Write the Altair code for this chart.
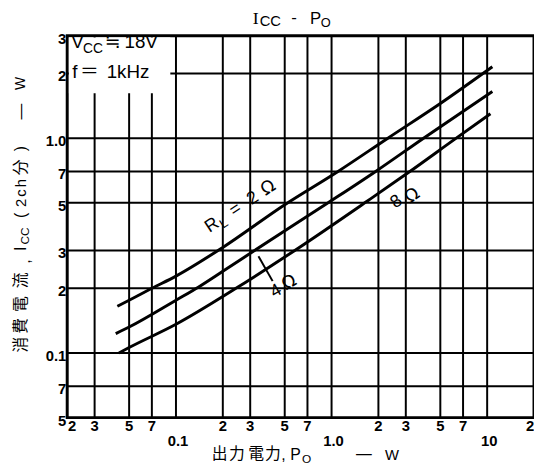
import altair as alt
import pandas as pd

# ---------------- data ----------------
p_2ohm = [0.042, 0.05, 0.07, 0.1, 0.2, 0.5, 1.1, 2.3, 5.0, 10.8]
i_2ohm = [0.165, 0.176, 0.2, 0.228, 0.31, 0.49, 0.7, 1.0, 1.45, 2.15]
p_4ohm = [0.041, 0.05, 0.1, 0.14, 0.2, 0.32, 0.95, 1.92, 3.9, 10.8]
i_4ohm = [0.123, 0.132, 0.176, 0.203, 0.24, 0.3, 0.5, 0.7, 1.0, 1.65]
p_8ohm = [0.043, 0.05, 0.1, 0.243, 0.6, 1.7, 3.1, 6.2, 10.5]
i_8ohm = [0.1, 0.106, 0.136, 0.2, 0.305, 0.51, 0.69, 0.99, 1.3]

x_grid = [0.03, 0.05, 0.07, 0.1, 0.2, 0.3, 0.5, 0.7, 1, 2, 3, 5, 7, 10]
y_grid = [0.07, 0.1, 0.2, 0.3, 0.5, 0.7, 1, 2]

x_minor_vals = [0.03, 0.05, 0.07, 0.2, 0.3, 0.5, 0.7, 2, 3, 5, 7]
x_minor_labels = ["3", "5", "7", "2", "3", "5", "7", "2", "3", "5", "7"]
x_first_val = [0.02]
x_first_label = ["2"]
x_last_val = [20]
x_last_label = ["2"]
x_major_vals = [0.1, 1, 10]
x_major_labels = ["0.1", "1.0", "10"]
y_tick_vals = [3, 2, 1, 0.7, 0.5, 0.3, 0.2, 0.1, 0.07, 0.05]
y_tick_labels = ["3", "2", "1.0", "7", "5", "3", "2", "0.1", "7", "5"]

# ---------------- layout ----------------
FONT = "Liberation Sans"
CJK = "Noto Sans CJK JP"
W, H = 473, 387

xscale = alt.Scale(type="log", domain=[0.02, 20], nice=False)
yscale = alt.Scale(type="log", domain=[0.05, 3], nice=False)

rows = []
for lab, ps, vs in [("2", p_2ohm, i_2ohm), ("4", p_4ohm, i_4ohm), ("8", p_8ohm, i_8ohm)]:
    for p, v in zip(ps, vs):
        rows.append({"RL": lab, "P": p, "I": v})
df = pd.DataFrame(rows)

vgrid = alt.Chart(pd.DataFrame({"P": x_grid})).mark_rule(color="black", strokeWidth=2).encode(
    x=alt.X("P:Q", scale=xscale, axis=None))
hgrid = alt.Chart(pd.DataFrame({"I": y_grid})).mark_rule(color="black", strokeWidth=2).encode(
    y=alt.Y("I:Q", scale=yscale, axis=None))

curves = alt.Chart(df).mark_line(color="black", strokeWidth=3, interpolate="monotone").encode(
    x=alt.X("P:Q", scale=xscale, axis=None),
    y=alt.Y("I:Q", scale=yscale, axis=None),
    detail="RL:N",
)

box = alt.Chart(pd.DataFrame({"P": [0.0205], "P2": [0.092], "I": [2.94], "I2": [1.62]})).mark_rect(
    fill="white").encode(
    x=alt.X("P:Q", scale=xscale, axis=None), x2="P2:Q",
    y=alt.Y("I:Q", scale=yscale, axis=None), y2="I2:Q")

leader = alt.Chart(pd.DataFrame({"P": [0.339, 0.418], "I": [0.282, 0.216]})).mark_line(
    color="black", strokeWidth=2).encode(
    x=alt.X("P:Q", scale=xscale, axis=None),
    y=alt.Y("I:Q", scale=yscale, axis=None))


def dtext(text, p, i, size=17, angle=0, dx=0, dy=0, align="left", baseline="alphabetic",
          font=FONT, weight="normal"):
    kw = dict(font=font, fontSize=size, dx=dx, dy=dy, align=align, baseline=baseline,
              color="black", fontWeight=weight)
    if angle:
        kw["angle"] = angle % 360
    return alt.Chart(pd.DataFrame({"P": [p], "I": [i], "t": [text]})).mark_text(**kw).encode(
        x=alt.X("P:Q", scale=xscale, axis=None),
        y=alt.Y("I:Q", scale=yscale, axis=None),
        text="t:N")


def ptext(text, x, y, size=16, angle=0, align="left", baseline="alphabetic", font=FONT,
          weight="normal"):
    kw = dict(font=font, fontSize=size, align=align, baseline=baseline, color="black",
              fontWeight=weight)
    if angle:
        kw["angle"] = angle % 360
    return alt.Chart(pd.DataFrame({"t": [text]})).mark_text(**kw).encode(
        x=alt.value(x), y=alt.value(y), text="t:N")


layers = [vgrid, hgrid, box, curves, leader]

# box text
layers += [
    dtext("V", 0.02, 2.64, size=19, dx=4),
    dtext("CC", 0.02, 2.64, size=14, dx=16, dy=5),
    dtext("≒", 0.02, 2.64, size=19, dx=38, font="DejaVu Sans"),
    dtext("18V", 0.02, 2.64, size=19, dx=58),
    dtext("f", 0.02, 1.90, size=19, dx=5),
    dtext("＝", 0.02, 1.90, size=19, dx=13, font=CJK),
    dtext("1kHz", 0.02, 1.90, size=19, dx=40),
]

# curve labels
A = -33.4
layers += [
    dtext("R", 0.164, 0.362, size=18, angle=A, dx=0),
    dtext("L", 0.164, 0.362, size=13, angle=A, dx=14, dy=4),
    dtext("=", 0.164, 0.362, size=18, angle=A, dx=30),
    dtext("2", 0.164, 0.362, size=18, angle=A, dx=51),
    dtext("Ω", 0.164, 0.362, size=18, angle=A, dx=68, font="DejaVu Sans"),
    dtext("4", 0.44, 0.194, size=18, angle=-30, align="center", baseline="middle"),
    dtext("Ω", 0.535, 0.212, size=18, angle=-30, align="center", baseline="middle", font="DejaVu Sans"),
    dtext("8", 2.61, 0.505, size=18, angle=-35, align="center", baseline="middle"),
    dtext("Ω", 3.31, 0.538, size=18, angle=-35, align="center", baseline="middle", font="DejaVu Sans"),
]

# tick labels
def xlabels(vals, labs, ypix, dx=0):
    return alt.Chart(pd.DataFrame({"P": vals, "t": labs})).mark_text(
        font=FONT, fontSize=15, fontWeight="bold", align="center", baseline="middle", dx=dx).encode(
        x=alt.X("P:Q", scale=xscale, axis=None), y=alt.value(ypix), text="t:N")


layers.append(xlabels(x_minor_vals, x_minor_labels, H + 9))
layers.append(xlabels(x_first_val, x_first_label, H + 9, dx=5))
layers.append(xlabels(x_last_val, x_last_label, H + 9, dx=-4))
layers.append(xlabels(x_major_vals, x_major_labels, H + 24, dx=2))
layers.append(alt.Chart(pd.DataFrame({"I": y_tick_vals, "t": y_tick_labels})).mark_text(
    font=FONT, fontSize=15, fontWeight="bold", align="right", baseline="middle", dy=3).encode(
    y=alt.Y("I:Q", scale=yscale, axis=None), x=alt.value(-1), text="t:N"))

# chart title  I_CC - P_O
layers += [
    ptext("I", 188, -12, size=18, font="Liberation Serif"),
    ptext("CC", 195, -10, size=15),
    ptext("-", 227, -13, size=17),
    ptext("P", 246, -12, size=17),
    ptext("O", 257, -9, size=13),
]

# x axis title  出力電力,P_O — W
layers += [
    ptext("出", 154.5, 424, size=16, font=CJK, align="center", baseline="middle"),
    ptext("力", 172, 424, size=16, font=CJK, align="center", baseline="middle"),
    ptext("電", 191.5, 424, size=16, font=CJK, align="center", baseline="middle"),
    ptext("力", 208.5, 424, size=16, font=CJK, align="center", baseline="middle"),
    ptext(",", 217, 430, size=16),
    ptext("P", 226, 430, size=16),
    ptext("O", 238, 433, size=12),
    ptext("—", 300.5, 424, size=16, align="center", baseline="middle"),
    ptext("W", 329, 430, size=15, align="center"),
]

# y axis title  消費電流,I_CC (2ch分) — W  (rotated)
ytitle = [("消", 346, CJK, 16, 0), ("費", 327, CJK, 16, 0), ("電", 305, CJK, 16, 0),
          ("流", 281, CJK, 16, 0), (",", 262, FONT, 16, 4), ("I", 249, FONT, 16, 0),
          ("CC", 236, FONT, 12, 4), ("(", 215, FONT, 16, 0), ("2", 202.5, FONT, 15, 0),
          ("c", 192.5, FONT, 15, 0), ("h", 182.5, FONT, 15, 0), ("分", 166.5, CJK, 16, 0),
          (")", 147.5, FONT, 16, 0), ("—", 110, FONT, 16, 0), ("W", 81.5, FONT, 14, 0)]
for t, py, f, s, sh in ytitle:
    layers.append(ptext(t, -47 + sh, py - 33, size=s, angle=-90, align="center",
                        baseline="middle", font=f))

chart = alt.layer(*layers).properties(
    width=W, height=H,
    autosize=alt.AutoSizeParams(type="none"),
    padding={"left": 60, "top": 25, "right": 0, "bottom": 48},
).configure_view(stroke="black", strokeWidth=3)

chart.save("out.html", embed_options={"renderer": "svg", "actions": False})
